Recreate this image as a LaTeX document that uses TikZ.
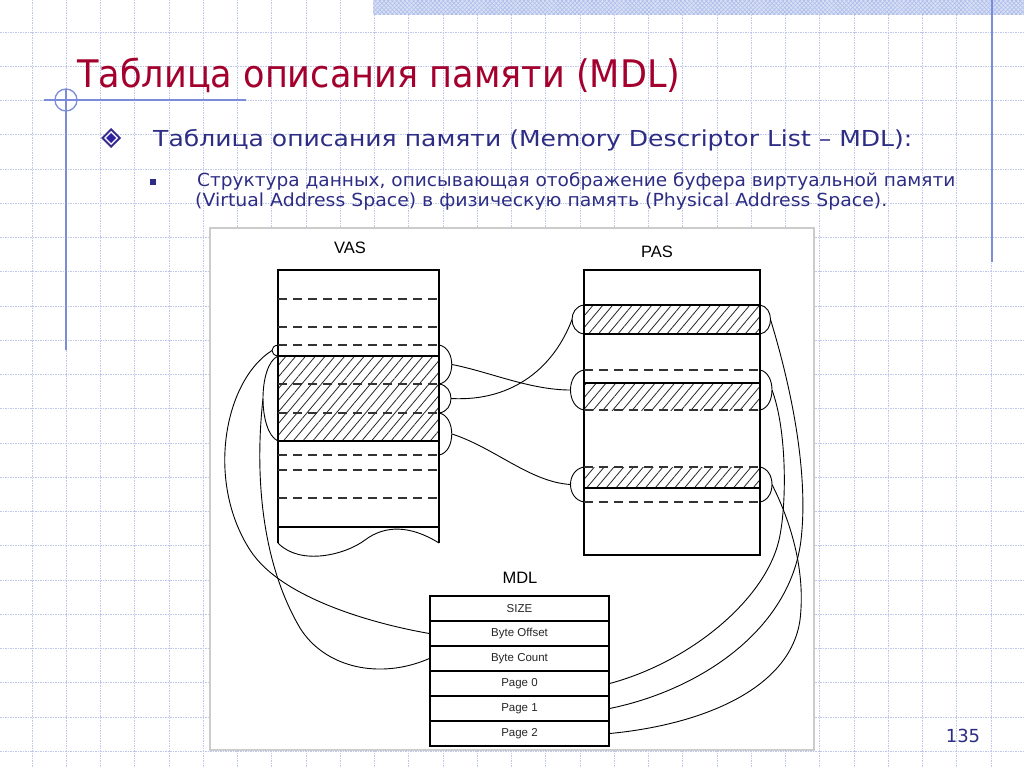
\documentclass[tikz,border=0pt]{standalone}
\usepackage{fontspec}
\setmainfont{DejaVu Sans}
\newfontfamily\arialf{Liberation Sans}
\usepackage{graphicx}
\usetikzlibrary{patterns.meta}
\definecolor{titlered}{HTML}{A3002D}
\definecolor{navy}{HTML}{2D2D85}
\definecolor{gridc}{HTML}{BFC7EA}
\definecolor{deco}{HTML}{7B8CDB}
\definecolor{framec}{HTML}{CCCCCC}
\definecolor{bandc}{HTML}{D8E0F6}
\definecolor{bandline}{HTML}{A8B8E8}
\definecolor{bulletc}{HTML}{3A2A8C}
\tikzset{
  gridline/.style={gridc, line width=0.7pt, dash pattern=on 1.5pt off 1pt},
  decoline/.style={deco, line width=1.3pt},
  boxline/.style={black, line width=1.4pt},
  dashline/.style={black!80, line width=1.4pt, dash pattern=on 9pt off 6pt},
  hatch/.style={pattern={Lines[angle=50,distance=7.5pt,line width=0.8pt]}, pattern color=black!85},
  conn/.style={black, line width=0.9pt},
  mdlrow/.style={draw, line width=1.3pt, minimum width=179pt, minimum height=25pt, inner sep=0pt,
    font=\arialf\fontsize{11.5pt}{13pt}\selectfont, text=black!85},
  lbl/.style={font=\arialf\fontsize{16.5pt}{18pt}\selectfont, inner sep=0pt},
  txt/.style={anchor=base west, inner sep=0pt},
}
\begin{document}
\begin{tikzpicture}[x=1pt,y=-1pt]
\useasboundingbox (0,0) rectangle (1024,767);
\fill[white] (0,0) rectangle (1024,767);
% background grid
\foreach \i in {0,...,29} \draw[gridline] ({32+34.25*\i},0) -- ({32+34.25*\i},767);
\foreach \i in {0,...,21} \draw[gridline] (0,{32+34.25*\i}) -- (1024,{32+34.25*\i});
% top band
\fill[bandc] (373,0) rectangle (1024,15);
\fill[pattern={Lines[angle=45,distance=3pt,line width=0.5pt]}, pattern color=bandline] (373,0) rectangle (1024,15);
\fill[pattern={Lines[angle=-45,distance=3pt,line width=0.5pt]}, pattern color=bandline] (373,0) rectangle (1024,15);
% decorations
\draw[decoline] (992,0) -- (992,262);
\draw[decoline] (44,100) -- (246,100);
\draw[decoline] (66,89) -- (66,350);
\draw[decoline] (66,100) circle (11);
% title and text
\node[txt, text=titlered] (title) at (77,88) {\resizebox{603pt}{\height}{\fontsize{38pt}{40pt}\selectfont Таблица описания памяти (MDL)}};
\fill[bulletc] (111,128) -- (121,138) -- (111,148) -- (101,138) -- cycle;
\fill[white] (111,131) -- (118,138) -- (111,145) -- (104,138) -- cycle;
\fill[bulletc!80!blue] (111,133) -- (116,138) -- (111,143) -- (106,138) -- cycle;
\node[txt, text=navy] (l1) at (153,147) {\resizebox{759pt}{\height}{\fontsize{22pt}{24pt}\selectfont Таблица описания памяти (Memory Descriptor List – MDL):}};
\fill[navy] (150,179) rectangle (156,185);
\node[txt, text=navy] (l2) at (197,187) {\resizebox{758pt}{\height}{\fontsize{18pt}{20pt}\selectfont Структура данных, описывающая отображение буфера виртуальной памяти}};
\node[txt, text=navy] (l3) at (195,207) {\resizebox{692pt}{\height}{\fontsize{18pt}{20pt}\selectfont (Virtual Address Space) в физическую память (Physical Address Space).}};
% diagram frame
\draw[framec, line width=1.5pt, fill=white] (210,228) rectangle (814,750);
% hatched regions
\fill[hatch] (278,356) rectangle (439,441);
\fill[hatch] (584,305) rectangle (760,334);
\fill[hatch] (584,383) rectangle (760,410);
\fill[hatch] (584,467) rectangle (760,488);
% VAS
\node[lbl] (vas) at (350,248) {VAS};
\draw[boxline] (278,543) -- (278,270) -- (439,270) -- (439,543);
\foreach \y in {356,441,527} \draw[boxline] (278,\y) -- (439,\y);
\foreach \y in {299,327,345,384,413,455,470,498} \draw[dashline] (278,\y) -- (439,\y);
\draw[conn] (278,543) .. controls (300,566) and (345,555) .. (365,540) .. controls (385,525) and (410,525) .. (439,543);
% VAS brackets
\draw[conn] (278,345) .. controls (270,346) and (270,355) .. (278,356);
\draw[conn] (278,356) .. controls (258,365) and (258,432) .. (278,441);
\draw[conn] (439,345) .. controls (456,348) and (456,381) .. (439,384);
\draw[conn] (439,384) .. controls (455,386) and (455,411) .. (439,413);
\draw[conn] (439,413) .. controls (456,416) and (456,452) .. (439,455);
\coordinate (vo) at (272,350.5);
\coordinate (vc) at (263,398.5);
\coordinate (v0) at (452,364.5);
\coordinate (v1) at (451,398.5);
\coordinate (v2) at (452,434);
% PAS
\node[lbl] (pas) at (657,252) {PAS};
\draw[boxline] (584,270) rectangle (760,555);
\foreach \y in {305,334,383,488} \draw[boxline] (584,\y) -- (760,\y);
\foreach \y in {370,410,467,502} \draw[dashline] (584,\y) -- (760,\y);
\draw[conn] (584,305) .. controls (568,307) and (568,332) .. (584,334);
\draw[conn] (584,370) .. controls (566,373) and (566,407) .. (584,410);
\draw[conn] (584,467) .. controls (566,470) and (566,499) .. (584,502);
\draw[conn] (760,305) .. controls (774,307) and (774,332) .. (760,334);
\draw[conn] (760,370) .. controls (776,373) and (776,407) .. (760,410);
\draw[conn] (760,467) .. controls (776,470) and (776,499) .. (760,502);
\coordinate (p1l) at (572,319.5);
\coordinate (p2l) at (570.5,390);
\coordinate (p3l) at (570.5,484.5);
\coordinate (p1r) at (770.5,319.5);
\coordinate (p2r) at (772,390);
\coordinate (p3r) at (772,484.5);
% MDL
\node[lbl] (mdl) at (520,578) {MDL};
\node[mdlrow] (size) at (519.5,608.5) {SIZE};
\node[mdlrow] (off)  at (519.5,633.5) {Byte Offset};
\node[mdlrow] (cnt)  at (519.5,658.5) {Byte Count};
\node[mdlrow] (pg0)  at (519.5,683.5) {Page 0};
\node[mdlrow] (pg1)  at (519.5,708.5) {Page 1};
\node[mdlrow] (pg2)  at (519.5,733.5) {Page 2};
% connectors VAS -> PAS
\draw[conn] (v0) .. controls (490,372) and (530,390) .. (p2l);
\draw[conn] (v1) .. controls (515,402) and (555,365) .. (p1l);
\draw[conn] (v2) .. controls (495,448) and (530,482) .. (p3l);
% connectors VAS -> MDL
\draw[conn] (vo) .. controls (225,380) and (205,480) .. (250,550) .. controls (282,600) and (380,625) .. (off.west);
\draw[conn] (vc) .. controls (255,470) and (260,560) .. (300,628) .. controls (325,668) and (380,680) .. (cnt.west);
% connectors PAS -> MDL
\draw[conn] (pg0.east) .. controls (690,662) and (765,600) .. (779,540) .. controls (787,505) and (787,430) .. (p2r);
\draw[conn] (pg1.east) .. controls (700,690) and (790,630) .. (801,540) .. controls (808,480) and (795,400) .. (p1r);
\draw[conn] (pg2.east) .. controls (700,725) and (790,690) .. (800,620) .. controls (806,570) and (790,520) .. (p3r);
% page number
\node[text=navy, font=\fontsize{18pt}{20pt}\selectfont, inner sep=0pt] (pgnum) at (963,736) {135};
\end{tikzpicture}
\end{document}
